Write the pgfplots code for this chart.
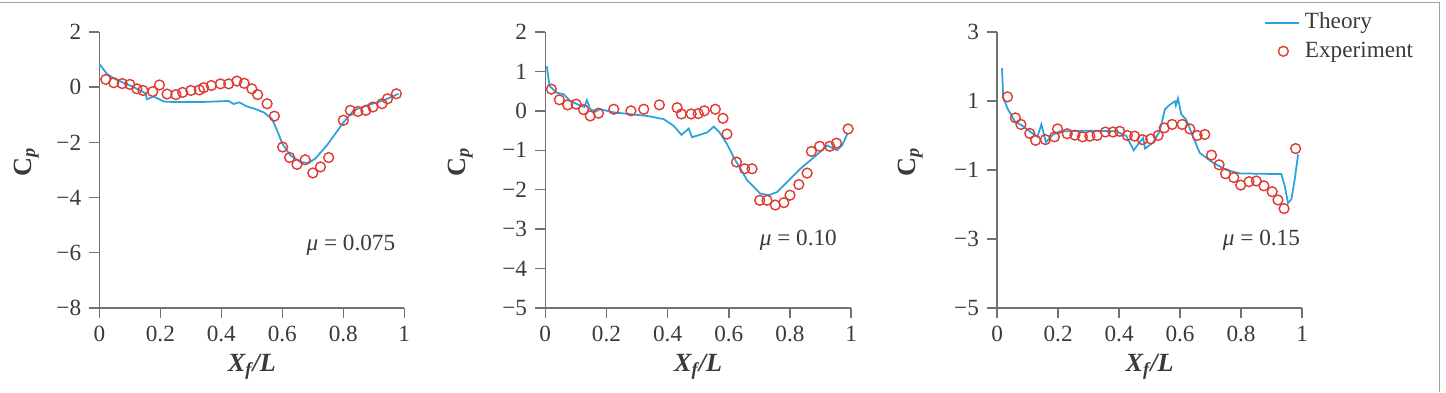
\documentclass[border=0pt]{standalone}
\usepackage{fontspec}
\setmainfont{Liberation Serif}
\usepackage{pgfplots}
\pgfplotsset{compat=1.18}
\definecolor{theory}{HTML}{2AA3DA}
\definecolor{expt}{HTML}{DD3B33}
\definecolor{axgray}{HTML}{707070}
\definecolor{txt}{HTML}{3A3A3A}
\definecolor{frame}{HTML}{A0A0A0}
\newcommand{\tfont}{\fontsize{9.9}{11}\selectfont}
\pgfplotsset{
  theoleg/.style={legend image code/.code={\draw[##1, theory, line width=0.8pt] (0mm,0mm) -- (5.1mm,0mm);}},
  expleg/.style={legend image code/.code={\draw[##1] plot coordinates {(2.7mm,0mm)};}},
}
\pgfplotsset{
  cpstyle/.style={
    scale only axis, height=41.4mm,
    axis lines*=left,
    axis line style={axgray, line width=0.6pt},
    tick style={axgray, line width=0.6pt},
    tick align=outside,
    major tick length=1.5mm,
    xmin=0, xmax=1,
    xtick={0,0.2,0.4,0.6,0.8,1},
    xticklabels={0,0.2,0.4,0.6,0.8,1},
    ticklabel style={font=\tfont, text=txt},
    label style={font=\fontsize{11.2}{13}\selectfont, text=txt},
    xlabel={{\bfseries\itshape X\textsubscript{f}/L}},
    ylabel={{\bfseries C\textsubscript{\itshape p}}},
    xlabel style={at={(axis description cs:0.5,-0.214)}, anchor=center},
  },
  theo/.style={theory, line width=0.75pt, no marks},
  exps/.style={only marks, mark=o, mark size=2.1pt, mark options={expt, line width=0.6pt}},
}
\begin{document}
\begin{tikzpicture}
\path (0,0) rectangle (216.9mm,-58.8mm);
\draw[frame, line width=0.35pt] (0,-0.375mm) -- (215.85mm,-0.375mm) -- (215.85mm,-58.8mm);

% Panel 1
\begin{axis}[cpstyle, width=45.75mm, at={(14.85mm,-46.2mm)}, anchor=south west,
  ymin=-8, ymax=2, ytick={-8,-6,-4,-2,0,2}, yticklabels={−8,−6,−4,−2,0,2},
  ylabel style={at={(axis description cs:-0.24,0.53)}, anchor=center}]
\addplot[theo] table {
0.000 0.84
0.025 0.48
0.052 0.29
0.113 0.00
0.151 -0.22
0.156 -0.44
0.178 -0.34
0.211 -0.52
0.250 -0.54
0.330 -0.54
0.424 -0.50
0.440 -0.61
0.459 -0.55
0.484 -0.70
0.511 -0.79
0.540 -0.92
0.566 -1.15
0.583 -1.57
0.600 -2.05
0.626 -2.47
0.659 -2.71
0.686 -2.75
0.708 -2.59
0.746 -2.11
0.801 -1.27
0.834 -0.84
0.878 -0.66
0.932 -0.48
0.981 -0.24
};
\addplot[exps] table {
0.021 0.28
0.047 0.16
0.075 0.13
0.100 0.10
0.123 -0.06
0.143 -0.12
0.175 -0.16
0.197 0.08
0.222 -0.25
0.251 -0.27
0.273 -0.19
0.300 -0.12
0.328 -0.10
0.342 -0.02
0.367 0.06
0.397 0.12
0.424 0.12
0.451 0.22
0.475 0.14
0.500 -0.06
0.519 -0.27
0.550 -0.60
0.574 -1.05
0.601 -2.17
0.624 -2.55
0.648 -2.80
0.675 -2.63
0.700 -3.11
0.725 -2.89
0.752 -2.55
0.800 -1.20
0.823 -0.84
0.848 -0.88
0.874 -0.84
0.897 -0.72
0.927 -0.60
0.945 -0.42
0.974 -0.24
};
\node[anchor=east, font=\tfont, text=txt] at (axis description cs:0.997,0.228) {{\itshape μ} = 0.075};
\end{axis}

% Panel 2
\begin{axis}[cpstyle, width=45.9mm, at={(81.75mm,-46.2mm)}, anchor=south west,
  ymin=-5, ymax=2, ytick={-5,-4,-3,-2,-1,0,1,2}, yticklabels={−5,−4,−3,−2,−1,0,1,2},
  ylabel style={at={(axis description cs:-0.278,0.53)}, anchor=center}]
\addplot[theo] table {
0.005 1.13
0.014 0.63
0.038 0.46
0.060 0.42
0.082 0.25
0.115 0.13
0.128 0.10
0.136 0.27
0.147 0.04
0.164 -0.02
0.180 0.04
0.224 -0.04
0.333 -0.13
0.387 -0.21
0.420 -0.38
0.445 -0.61
0.469 -0.45
0.480 -0.67
0.529 -0.55
0.551 -0.40
0.570 -0.55
0.594 -0.84
0.616 -1.18
0.660 -1.76
0.703 -2.10
0.731 -2.14
0.758 -2.06
0.790 -1.81
0.834 -1.47
0.878 -1.18
0.922 -0.88
0.954 -1.00
0.971 -0.87
0.987 -0.59
};
\addplot[exps] table {
0.020 0.55
0.046 0.28
0.073 0.15
0.101 0.17
0.125 0.03
0.147 -0.13
0.174 -0.06
0.224 0.04
0.280 0.00
0.322 0.04
0.373 0.15
0.431 0.08
0.445 -0.08
0.477 -0.08
0.500 -0.07
0.520 0.00
0.556 0.04
0.581 -0.19
0.594 -0.59
0.625 -1.30
0.652 -1.47
0.676 -1.47
0.701 -2.27
0.725 -2.27
0.752 -2.39
0.780 -2.33
0.800 -2.14
0.829 -1.87
0.856 -1.58
0.870 -1.03
0.897 -0.90
0.930 -0.90
0.952 -0.82
0.990 -0.46
};
\node[anchor=east, font=\tfont, text=txt] at (axis description cs:0.98,0.246) {{\itshape μ} = 0.10};
\end{axis}

% Panel 3
\begin{axis}[cpstyle, width=45.75mm, at={(149.55mm,-46.2mm)}, anchor=south west,
  ymin=-5, ymax=3, ytick={-5,-3,-1,1,3}, yticklabels={−5,−3,−1,1,3},
  ylabel style={at={(axis description cs:-0.285,0.53)}, anchor=center},
  legend style={at={(axis description cs:0.852,1.105)}, anchor=north west,
    draw=none, fill=none, font=\tfont, text=txt, row sep=0pt},
  legend cell align=left]
\addplot[theo, theoleg] table {
0.016 1.95
0.020 1.09
0.036 0.75
0.058 0.41
0.085 0.27
0.113 0.08
0.132 -0.04
0.145 0.32
0.160 -0.19
0.184 0.03
0.205 0.12
0.315 0.14
0.391 0.12
0.424 -0.02
0.448 -0.43
0.462 -0.26
0.479 -0.07
0.485 -0.38
0.511 -0.21
0.533 0.12
0.550 0.75
0.566 0.89
0.583 0.99
0.586 0.87
0.593 1.08
0.604 0.61
0.620 0.46
0.642 -0.02
0.664 -0.50
0.708 -0.79
0.752 -1.00
0.796 -1.10
0.861 -1.11
0.932 -1.12
0.943 -1.46
0.954 -1.96
0.965 -1.85
0.976 -1.27
0.987 -0.55
};
\addlegendentry{Theory}
\addplot[exps, expleg] table {
0.034 1.12
0.060 0.51
0.078 0.32
0.107 0.06
0.126 -0.14
0.158 -0.12
0.188 -0.04
0.198 0.19
0.230 0.05
0.255 0.01
0.280 -0.04
0.304 -0.02
0.328 0.00
0.355 0.10
0.380 0.10
0.402 0.12
0.427 0.00
0.451 -0.02
0.476 -0.12
0.504 -0.10
0.528 0.00
0.548 0.22
0.574 0.32
0.607 0.32
0.632 0.19
0.656 0.00
0.681 0.03
0.703 -0.57
0.728 -0.85
0.749 -1.11
0.776 -1.22
0.799 -1.44
0.826 -1.34
0.850 -1.32
0.875 -1.46
0.902 -1.63
0.921 -1.87
0.941 -2.12
0.979 -0.38
};
\addlegendentry{Experiment}
\node[anchor=east, font=\tfont, text=txt] at (axis description cs:1.02,0.246) {{\itshape μ} = 0.15};
\end{axis}
\end{tikzpicture}
\end{document}
